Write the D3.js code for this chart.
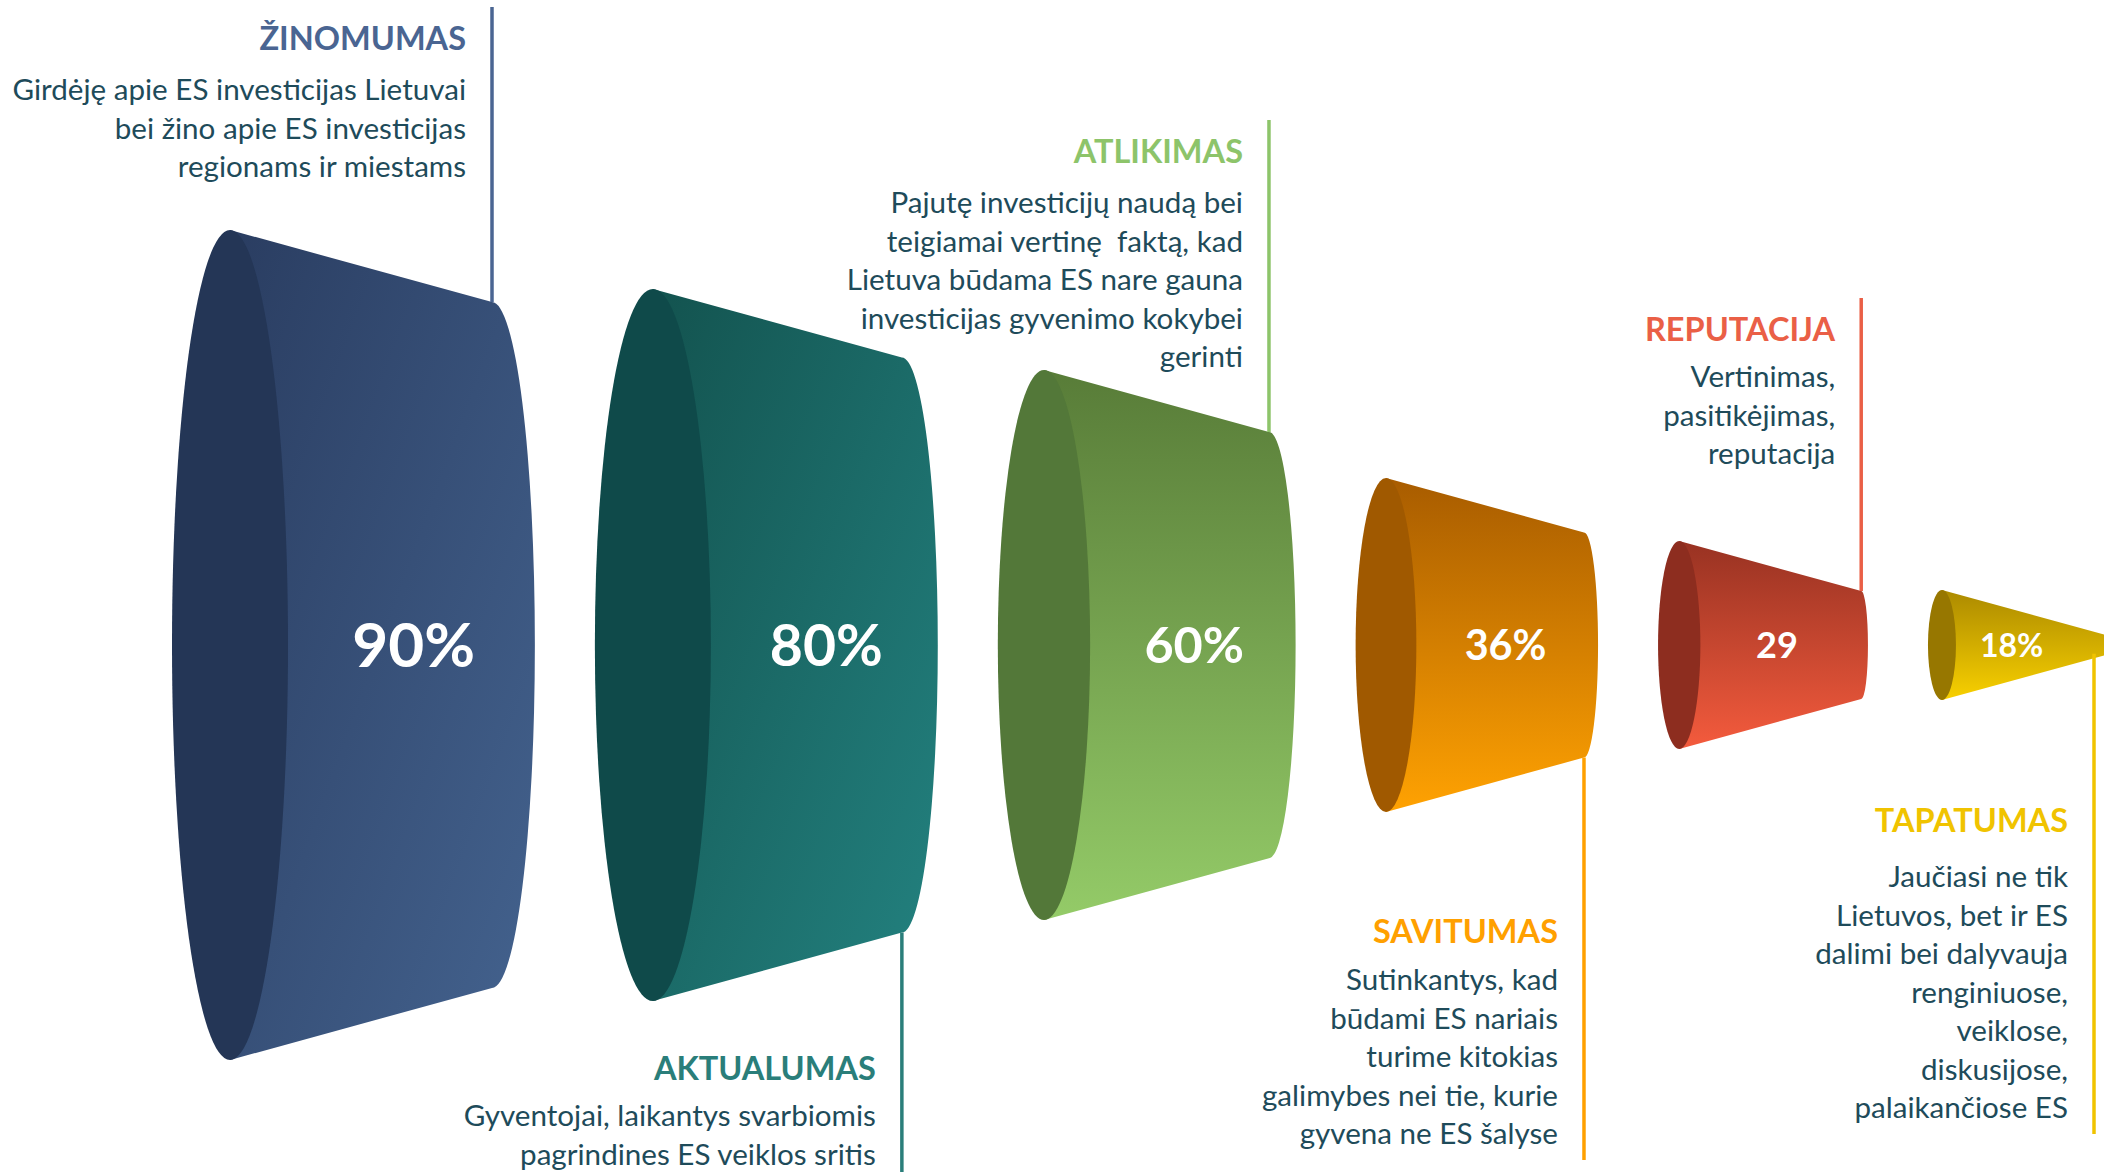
<!DOCTYPE html>
<html>
<head>
<meta charset="utf-8">
<script src="https://cdn.jsdelivr.net/npm/d3@7"></script>
<style>
    html, body { margin: 0; padding: 0; background: #fff; }
    #chart { width: 2104px; height: 1172px; }
    svg { display: block; font-family: Lato, "Open Sans", sans-serif; }
</style>
</head>
<body>
<div id="chart"></div>
<script>
// data
var categories = ["ŽINOMUMAS", "AKTUALUMAS", "ATLIKIMAS", "SAVITUMAS", "REPUTACIJA", "TAPATUMAS"];
var values = [90, 80, 60, 36, 29, 18];
var valueLabels = ["90%", "80%", "60%", "36%", "29", "18%"];
var descriptions = [
    ["Girdėję apie ES investicijas Lietuvai", "bei žino apie ES investicijas", "regionams ir miestams"],
    ["Gyventojai, laikantys svarbiomis", "pagrindines ES veiklos sritis"],
    ["Pajutę investicijų naudą bei", "teigiamai vertinę  faktą, kad", "Lietuva būdama ES nare gauna", "investicijas gyvenimo kokybei", "gerinti"],
    ["Sutinkantys, kad", "būdami ES nariais", "turime kitokias", "galimybes nei tie, kurie", "gyvena ne ES šalyse"],
    ["Vertinimas,", "pasitikėjimas,", "reputacija"],
    ["Jaučiasi ne tik", "Lietuvos, bet ir ES", "dalimi bei dalyvauja", "renginiuose,", "veiklose,", "diskusijose,", "palaikančiose ES"]
];

// styles
var titleColors = ["#4a6592", "#2a7e7a", "#8dc46a", "#ffa000", "#ea5f46", "#f0c300"];
var bodyTop = ["#2a3d61", "#13534f", "#587c38", "#a85c00", "#983222", "#ac8a00"];
var bodyBottom = ["#44638f", "#238280", "#94cb68", "#ffa202", "#f45b3d", "#f8d000"];
var capColors = ["#243656", "#0f4a4a", "#537839", "#a05900", "#8d2d1f", "#977700"];
var diagonal = [true, true, false, false, false, false];
// baseline of each title and gap down to its first description line
var noteY = [50, 1080, 163, 943, 341, 832];
var descGap = [50, 46, 50, 47, 46, 55];

Funnel = function(_parentElement) {
    this.parentElement = _parentElement;
    this.initVis();
};

Funnel.prototype.initVis = function() {
    var vis = this;

    vis.width = 2104;
    vis.height = 1172;
    vis.cy = 645;

    vis.svg = d3.select("#" + vis.parentElement)
        .append("svg")
        .attr("width", vis.width)
        .attr("height", vis.height);

    vis.defs = vis.svg.append("defs");

    // scales
    vis.ry = d3.scaleLinear().domain([18, 29, 36, 60, 80, 90]).range([55, 104, 167, 275, 356, 415]);
    vis.len = d3.scaleLinear().domain([18, 29, 36, 60, 80, 90]).range([168, 182, 198, 225, 249, 262]);
    vis.rx = d3.scaleLinear().domain([55, 356]).range([14, 58]).clamp(true);
    vis.fontSize = d3.scaleLinear().domain([55, 415]).range([32, 62]);

    vis.updateVis();
};

Funnel.prototype.updateVis = function() {
    var vis = this;
    var cy = vis.cy;
    var gap = 60;
    var taper = 0.275;

    // layout the pieces left to right
    var cursor = 172;
    var data = values.map(function(v, i) {
        var d = { i: i, name: categories[i], value: v, label: valueLabels[i], lines: descriptions[i] };
        d.ryL = vis.ry(v);
        d.rxL = vis.rx(d.ryL);
        d.length = vis.len(v);
        d.ryR = d.ryL - taper * d.length;
        d.rxR = 0.125 * d.ryR;
        d.cxL = cursor + d.rxL;
        d.cxR = d.cxL + d.length;
        cursor = d.cxR + d.rxR + gap;

        // label sits at the centroid of the frustum
        var a = d.cxL + d.rxL, b = d.cxR + d.rxR;
        var R = d.ryL, r = d.ryR;
        var f = (R * R + 2 * R * r + 3 * r * r) / (4 * (R * R + R * r + r * r));
        d.lx = a + (b - a) * f + 10;
        return d;
    });

    // gradients
    var grads = vis.defs.selectAll("linearGradient")
        .data(data)
        .enter()
        .append("linearGradient")
        .attr("id", d => "grad" + d.i)
        .attr("x1", 0).attr("y1", 0)
        .attr("x2", d => diagonal[d.i] ? 1 : 0)
        .attr("y2", 1);
    grads.append("stop").attr("offset", "0%").attr("stop-color", d => bodyTop[d.i]);
    grads.append("stop").attr("offset", "100%").attr("stop-color", d => bodyBottom[d.i]);

    var pieces = vis.svg.selectAll(".piece")
        .data(data)
        .enter()
        .append("g")
        .attr("class", "piece");

    // body
    pieces.append("path")
        .attr("fill", d => "url(#grad" + d.i + ")")
        .attr("d", d => "M" + d.cxL + "," + (cy - d.ryL) +
            "L" + d.cxR + "," + (cy - d.ryR) +
            "A" + d.rxR + "," + d.ryR + " 0 0 1 " + d.cxR + "," + (cy + d.ryR) +
            "L" + d.cxL + "," + (cy + d.ryL) + "Z");

    // open end
    pieces.append("ellipse")
        .attr("cx", d => d.cxL)
        .attr("cy", cy)
        .attr("rx", d => d.rxL)
        .attr("ry", d => d.ryL)
        .attr("fill", d => capColors[d.i]);

    // values
    pieces.append("text")
        .attr("x", d => d.lx)
        .attr("y", d => cy + 0.36 * vis.fontSize(d.ryL))
        .attr("text-anchor", "middle")
        .attr("font-size", d => vis.fontSize(d.ryL) + "px")
        .attr("font-weight", "bold")
        .attr("fill", "#fff")
        .text(d => d.label);

    // notes
    var lineGap = 38.5;
    var notes = vis.svg.selectAll(".note")
        .data(data)
        .enter()
        .append("g")
        .attr("class", "note");

    notes.each(function(d) {
        var g = d3.select(this);
        var lineX = Math.min(d.cxR, vis.width - 10);
        var top = d.i % 2 == 0;
        var ty = noteY[d.i];
        var firstY = ty + descGap[d.i];
        var lastY = firstY + (d.lines.length - 1) * lineGap;

        g.append("line")
            .attr("x1", lineX).attr("x2", lineX)
            .attr("y1", top ? ty - 43 : cy + d.ryR)
            .attr("y2", top ? cy - d.ryR : Math.min(lastY + 16, vis.height))
            .attr("stroke", titleColors[d.i])
            .attr("stroke-width", 3.5);

        g.append("text")
            .attr("x", lineX - 26)
            .attr("y", ty)
            .attr("text-anchor", "end")
            .attr("font-size", "32.5px")
            .attr("font-weight", "bold")
            .attr("fill", titleColors[d.i])
            .text(d.name);

        g.selectAll(".desc")
            .data(d.lines)
            .enter()
            .append("text")
            .attr("class", "desc")
            .attr("x", lineX - 26)
            .attr("y", (l, j) => firstY + j * lineGap)
            .attr("text-anchor", "end")
            .attr("font-size", "29.6px")
            .attr("fill", "#1e4b5a")
            .style("white-space", "pre")
            .text(l => l);
    });
};

var funnel = new Funnel("chart");
</script>
</body>
</html>
